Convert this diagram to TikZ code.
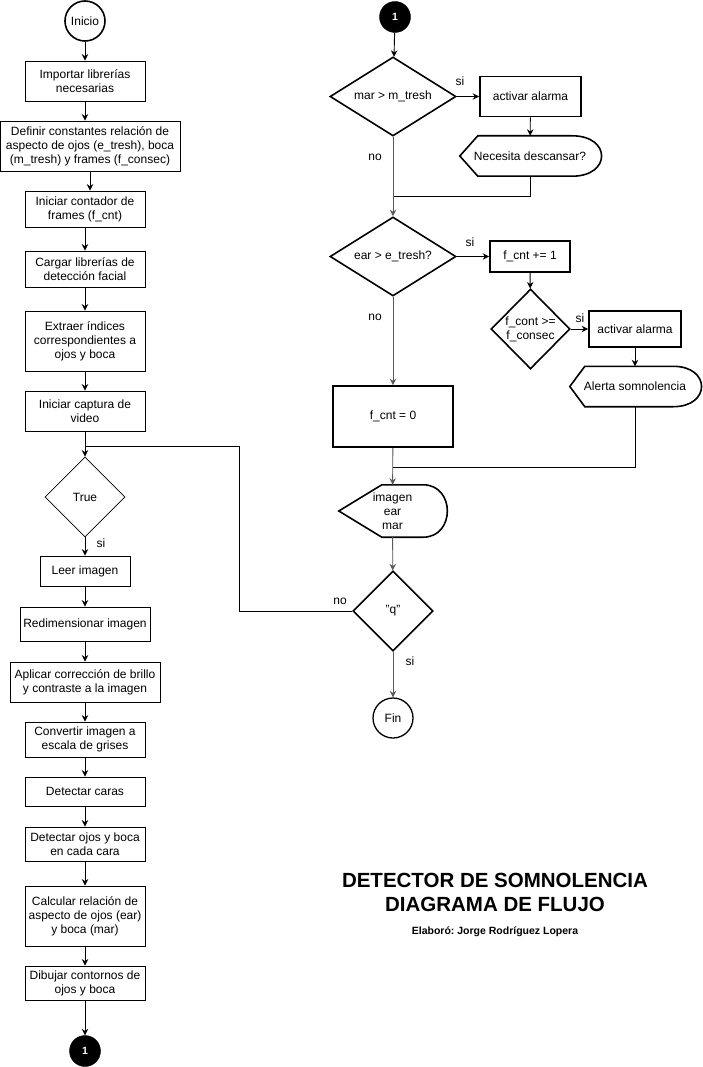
\documentclass[tikz,border=0pt]{standalone}
\usepackage{fontspec}
\setmainfont{Liberation Sans}
\frenchspacing
\usetikzlibrary{shapes.geometric, arrows.meta}

\newcommand{\dispbox}[3]{%
  \draw[line width = 1.6pt] (#1.west) -- ([xshift = #2]#1.north west)
    -- ([xshift = -#3]#1.north east)
    .. controls ([xshift = #3/2.5]#1.north east) and ([xshift = #3/2.5]#1.south east) .. ([xshift = -#3]#1.south east)
    -- ([xshift = #2]#1.south west) -- cycle;}

\begin{document}
\begin{tikzpicture}[x = 1pt, y = -1pt,
  every node/.style = {font = \fontsize{12}{14}\selectfont},
  box/.style = {draw, rectangle, line width = 0.8pt, align = center, inner sep = 0pt},
  tbox/.style = {box, line width = 1.7pt},
  dec/.style = {draw, diamond, line width = 1.6pt, align = center, inner sep = 0pt},
  term/.style = {draw, circle, align = center, inner sep = 0pt},
  link/.style = {draw, circle, fill = black, text = white, inner sep = 0pt, minimum size = 31pt, font = \fontsize{10.5}{12}\bfseries},
  arr/.style = {-{Stealth[length = 6.5pt, width = 6.5pt]}, line width = 0.9pt},
  arrg/.style = {arr, draw = black!65, fill = black!65},
  lin/.style = {line width = 0.9pt}]
\useasboundingbox (0, 0) rectangle (702, 1067);
%\draw[help lines, step = 50pt] (0, 0) grid (702, 1067);
% left column
\node (ini) at (85, 21) [term, line width = 1.6pt, minimum size = 40pt] {Inicio};
\node (imp) at (85, 81) [box, minimum width = 120pt, minimum height = 40pt] {Importar librerías\\necesarias};
\node (def) at (90, 146) [box, minimum width = 180pt, minimum height = 50pt] {Definir constantes relación de\\aspecto de ojos (e\_tresh), boca\\(m\_tresh) y frames (f\_consec)};
\node (cnt) at (85, 209) [box, minimum width = 120pt, minimum height = 36pt] {Iniciar contador de\\frames (f\_cnt)};
\node (carg) at (85, 269) [box, minimum width = 120pt, minimum height = 36pt] {Cargar librerías de\\detección facial};
\node (ext) at (85, 341) [box, minimum width = 120pt, minimum height = 60pt] {Extraer índices\\correspondientes a\\ojos y boca};
\node (cap) at (85, 411) [box, minimum width = 120pt, minimum height = 40pt] {Iniciar captura de\\video};
\node (true) at (85, 497) [dec, line width = 0.8pt, minimum width = 80pt, minimum height = 80pt] {True};
\node (leer) at (85, 571) [box, minimum width = 90pt, minimum height = 30pt] {Leer imagen};
\node (redim) at (85, 624) [box, minimum width = 130pt, minimum height = 34pt] {Redimensionar imagen};
\node (apl) at (85, 682) [box, minimum width = 150pt, minimum height = 40pt] {Aplicar corrección de brillo\\y contraste a la imagen};
\node (conv) at (85, 739.5) [box, minimum width = 120pt, minimum height = 35pt] {Convertir imagen a\\escala de grises};
\node (cara) at (85, 791.5) [box, minimum width = 120pt, minimum height = 29pt] {Detectar caras};
\node (ojos) at (85, 844) [box, minimum width = 120pt, minimum height = 34pt] {Detectar ojos y boca\\en cada cara};
\node (calc) at (85, 916) [box, minimum width = 120pt, minimum height = 60pt] {Calcular relación de\\aspecto de ojos (ear)\\y boca (mar)};
\node (dib) at (85, 983) [box, minimum width = 120pt, minimum height = 34pt] {Dibujar contornos de\\ojos y boca};
\node (uno) at (85, 1051) [link] {1};
% right column
\node (dos) at (395, 17) [link] {1};
\node (mar) at (393, 96.5) [dec, minimum width = 126pt, minimum height = 79pt, aspect = 1.6] {mar > m\_tresh};
\node (alar1) at (530.5, 96.5) [tbox, minimum width = 101pt, minimum height = 40pt] {activar alarma};
\node (desc) at (530, 156) [minimum width = 140pt, minimum height = 40pt, inner sep = 0pt] {Necesita descansar?};
\node (ear) at (393, 256.5) [dec, minimum width = 126pt, minimum height = 79pt, aspect = 1.6] {ear > e\_tresh?};
\node (fcnt) at (530, 256.5) [tbox, minimum width = 80pt, minimum height = 31pt] {f\_cnt += 1};
\node (fcons) at (530.5, 329) [dec, minimum width = 79pt, minimum height = 80pt] {f\_cont >=\\f\_consec};
\node (alar2) at (635, 329) [tbox, minimum width = 92pt, minimum height = 36pt] {activar alarma};
\node (alerta) at (635, 386.5) [minimum width = 130pt, minimum height = 40pt, inner sep = 0pt] {Alerta somnolencia};
\node (zero) at (393, 416.5) [tbox, minimum width = 120pt, minimum height = 61pt] {f\_cnt = 0};
\node (img) at (392.5, 511) [minimum width = 107pt, minimum height = 52pt, inner sep = 0pt, align = center] {imagen\\ear\\mar};
\node (q) at (393, 611) [dec, minimum width = 80pt, minimum height = 80pt] {"q"};
\node (fin) at (393, 718) [term, line width = 1.3pt, minimum size = 40pt] {Fin};
\dispbox{desc}{18pt}{28pt}
\dispbox{alerta}{15pt}{27pt}
\dispbox{img}{43pt}{23pt}
\coordinate (j0) at (85, 446);
\coordinate (lp) at (239, 611);
\coordinate (j1) at (393, 196);
\coordinate (j2) at (393, 467);
% connectors left
\draw[arr] (ini) -- (imp);
\draw[arr] (imp.south) -- (imp.south |- def.north);
\draw[arr] (def.south) -- (def.south |- cnt.north);
\draw[arr] (cnt) -- (carg);
\draw[arr] (carg) -- (ext);
\draw[arr] (ext) -- (cap);
\draw[arr] (cap) -- (true);
\draw[arr] (true) -- (leer);
\draw[arr] (leer) -- (redim);
\draw[arr] (redim) -- (apl);
\draw[arr] (apl) -- (conv);
\draw[arr] (conv) -- (cara);
\draw[arr] (cara) -- (ojos);
\draw[arr] (ojos) -- (calc);
\draw[arr] (calc) -- (dib);
\draw[arr] (dib) -- (uno);
% connectors right
\draw[arr] (dos) -- (mar);
\draw[arr] (mar) -- (alar1);
\draw[arr] (alar1) -- (desc);
\draw[lin] (desc.south) |- (j1);
\draw[arrg] (mar) -- (ear);
\draw[arr] (ear) -- (fcnt);
\draw[arr] (fcnt) -- (fcons);
\draw[arr] (fcons) -- (alar2);
\draw[arr] (alar2) -- (alerta);
\draw[lin] (alerta.south) |- (j2);
\draw[arrg] (ear) -- (zero);
\draw[arrg] (zero) -- (img);
\draw[arrg] (img) -- (q);
\draw[arrg] (q) -- (fin);
\draw[lin] (q.west) -- (lp) |- (j0);
% labels
\node (si0) at (101, 543) {si};
\node (si1) at (460, 81) {si};
\node (no1) at (375, 157) {no};
\node (si2) at (470, 242) {si};
\node (si3) at (580, 318) {si};
\node (no2) at (375, 317) {no};
\node (no3) at (340, 601) {no};
\node (si4) at (410, 661) {si};
% title
\node (tit) at (495, 892) [align = center, font = \fontsize{20.5}{24}\bfseries] {DETECTOR DE SOMNOLENCIA\\DIAGRAMA DE FLUJO};
\node (aut) at (495, 932) [font = \fontsize{10.5}{12}\bfseries] {Elaboró: Jorge Rodríguez Lopera};
\end{tikzpicture}
\end{document}
